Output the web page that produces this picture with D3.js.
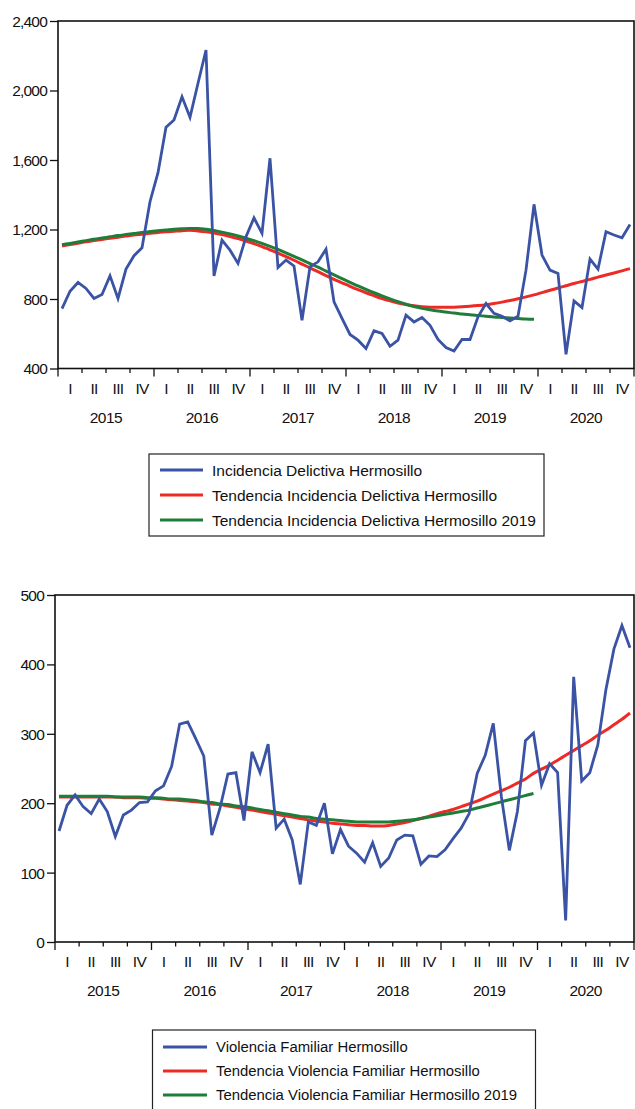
<!DOCTYPE html>
<html>
<head>
<meta charset="utf-8">
<script src="https://cdn.jsdelivr.net/npm/d3@7"></script>
<style>
  html, body { margin: 0; padding: 0; background: #fff; }
  svg { display: block; }
  text { font-family: "Liberation Sans", Arial, sans-serif; fill: #111; }
</style>
</head>
<body>
<svg id="chart" width="635" height="1109"></svg>
<script>
// ---------- DATA ----------
const years = ["2015", "2016", "2017", "2018", "2019", "2020"];
const quarters = ["I", "II", "III", "IV"];

// Chart 1: Incidencia Delictiva Hermosillo (monthly, Jan 2015 - Dec 2020)
const incidencia = [
  745, 845, 895, 861, 803, 826, 933, 803, 972, 1049, 1095, 1360,
  1527, 1788, 1830, 1964, 1846, 2042, 2233, 932, 1139, 1081, 1005, 1158,
  1267, 1178, 1610, 981, 1024, 990, 678, 985, 1014, 1087, 784, 688,
  596, 563, 515, 617, 602, 528, 563, 707, 668, 694, 649, 567,
  521, 501, 567, 567, 697, 774, 717, 701, 674, 701, 966, 1345,
  1053, 966, 947, 482, 789, 751, 1030, 972, 1187, 1168, 1152, 1229
];
const tendIncidencia = [
  1105, 1113, 1121, 1129, 1136, 1143, 1150, 1156, 1162, 1168, 1173, 1178,
  1183, 1187, 1190, 1193, 1195, 1192, 1187, 1180, 1171, 1160, 1148, 1134,
  1119, 1102, 1083, 1064, 1044, 1023, 1001, 979, 957, 935, 913, 893,
  873, 854, 836, 819, 803, 789, 777, 768, 761, 756, 753, 752,
  752, 753, 755, 758, 762, 767, 774, 782, 791, 801, 812, 824,
  837, 850, 863, 876, 889, 901, 913, 926, 938, 950, 962, 975
];
const tendIncidencia2019 = [
  1112, 1120, 1128, 1136, 1144, 1151, 1158, 1165, 1171, 1177, 1183, 1188,
  1193, 1197, 1201, 1204, 1206, 1206, 1201, 1194, 1185, 1175, 1163, 1150,
  1136, 1120, 1103, 1085, 1066, 1046, 1025, 1004, 983, 961, 939, 917,
  896, 875, 855, 836, 818, 801, 785, 770, 757, 746, 738, 731,
  725, 719, 714, 709, 705, 701, 697, 694, 691, 688, 685, 683
];

// Chart 2: Violencia Familiar Hermosillo
const violencia = [
  160, 197, 212, 195, 185, 206, 188, 152, 183, 190, 201, 202,
  218, 225, 253, 314, 317, 293, 268, 154, 192, 242, 244, 175,
  274, 244, 285, 164, 177, 147, 83, 173, 168, 200, 127, 162,
  138, 128, 115, 143, 109, 121, 147, 154, 153, 112, 124, 123,
  133, 149, 164, 185, 243, 269, 315, 210, 132, 188, 290, 301,
  226, 257, 244, 31, 382, 232, 244, 284, 363, 422, 456, 424
];
const tendViolencia = [
  209, 209, 209, 209, 209, 209, 209, 209, 208, 208, 208, 207,
  207, 206, 205, 204, 203, 202, 201, 199, 198, 196, 194, 192,
  190, 188, 186, 184, 182, 180, 178, 176, 174, 173, 171, 170,
  169, 168, 168, 167, 167, 168, 170, 172, 175, 178, 181, 185,
  188, 191, 195, 199, 203, 208, 213, 218, 223, 229, 235, 243,
  249, 255, 262, 269, 276, 283, 290, 298, 305, 313, 321, 330
];
const tendViolencia2019 = [
  210, 210, 210, 210, 210, 210, 210, 209, 209, 209, 209, 208,
  208, 207, 206, 206, 205, 204, 202, 201, 199, 198, 196, 195,
  193, 191, 189, 187, 185, 183, 181, 180, 178, 177, 176, 175,
  174, 173, 173, 173, 173, 173, 174, 175, 176, 178, 180, 182,
  184, 186, 188, 190, 193, 196, 199, 202, 205, 208, 211, 214
];

const ticks1 = [400, 800, 1200, 1600, 2000, 2400];
const ticks2 = [0, 100, 200, 300, 400, 500];

const legend1 = ["Incidencia Delictiva Hermosillo",
                 "Tendencia Incidencia Delictiva Hermosillo",
                 "Tendencia Incidencia Delictiva Hermosillo 2019"];
const legend2 = ["Violencia Familiar Hermosillo",
                 "Tendencia Violencia Familiar Hermosillo",
                 "Tendencia Violencia Familiar Hermosillo 2019"];

const colors = ["#3a53a4", "#ee2a27", "#1f7d3a"];

// ---------- DRAW ----------
const svg = d3.select("#chart");

function drawPanel(cfg) {
  const g = svg.append("g");
  const x = d3.scaleLinear().domain([0, 72]).range([cfg.left, cfg.right]);
  const y = d3.scaleLinear().domain(cfg.domain).range([cfg.bottom, cfg.top]);

  // frame
  g.append("rect")
    .attr("x", cfg.left).attr("y", cfg.top)
    .attr("width", cfg.right - cfg.left).attr("height", cfg.bottom - cfg.top)
    .attr("fill", "none").attr("stroke", "#111").attr("stroke-width", 1.6);

  // y axis
  const yAxis = d3.axisLeft(y).tickValues(cfg.ticks).tickSize(8).tickPadding(3)
    .tickFormat(d3.format(","));
  const ya = g.append("g").attr("transform", `translate(${cfg.left},0)`).call(yAxis);
  ya.select(".domain").remove();
  ya.selectAll(".tick line").attr("stroke", "#111").attr("stroke-width", 1.3);
  ya.selectAll(".tick text").attr("font-size", 15.5).attr("letter-spacing", -0.8)
    .attr("fill", "#111").attr("dy", "0.35em")
    .style("font-family", '"Liberation Sans", Arial, sans-serif');

  // x axis ticks: quarter boundaries
  const qBounds = d3.range(0, 73, 3);
  const xa = g.append("g");
  xa.selectAll("line.q").data(qBounds).join("line")
    .attr("x1", d => x(d)).attr("x2", d => x(d))
    .attr("y1", cfg.bottom)
    .attr("y2", d => cfg.bottom + (d % 12 === 0 ? 8 : 4.5))
    .attr("stroke", "#111").attr("stroke-width", 1.3);

  // quarter labels
  const qLabels = d3.range(24).map(i => ({ pos: i * 3 + 1.5, label: quarters[i % 4] }));
  xa.selectAll("text.q").data(qLabels).join("text")
    .attr("x", d => x(d.pos)).attr("y", cfg.bottom + 25)
    .attr("text-anchor", "middle").attr("font-size", 15.5).attr("letter-spacing", -0.7)
    .text(d => d.label);

  // year labels
  xa.selectAll("text.y").data(years).join("text")
    .attr("x", (d, i) => x(i * 12 + 6)).attr("y", cfg.bottom + 54)
    .attr("text-anchor", "middle").attr("font-size", 15.5).attr("letter-spacing", -0.5)
    .text(d => d);

  // lines
  const line = d3.line().x((d, i) => x(i + 0.5)).y(d => y(d));
  const smooth = d3.line().x((d, i) => x(i + 0.5)).y(d => y(d)).curve(d3.curveMonotoneX);
  const clipId = "clip" + cfg.id;
  svg.append("clipPath").attr("id", clipId).append("rect")
    .attr("x", cfg.left).attr("y", cfg.top - 2)
    .attr("width", cfg.right - cfg.left).attr("height", cfg.bottom - cfg.top + 2);
  const lg = g.append("g").attr("clip-path", `url(#${clipId})`);
  lg.append("path").datum(cfg.series[1]).attr("d", smooth)
    .attr("fill", "none").attr("stroke", colors[1]).attr("stroke-width", 3);
  lg.append("path").datum(cfg.series[2]).attr("d", smooth)
    .attr("fill", "none").attr("stroke", colors[2]).attr("stroke-width", 3);
  lg.append("path").datum(cfg.series[0]).attr("d", line)
    .attr("fill", "none").attr("stroke", colors[0]).attr("stroke-width", 2.8)
    .attr("stroke-linejoin", "miter");

  // legend
  const L = cfg.legend;
  g.append("rect").attr("x", L.x).attr("y", L.y).attr("width", L.w).attr("height", L.h)
    .attr("fill", "#fff").attr("stroke", "#222").attr("stroke-width", 1.2);
  cfg.labels.forEach((t, i) => {
    const yy = L.row0 + i * L.step;
    g.append("line").attr("x1", L.lx1).attr("x2", L.lx2).attr("y1", yy).attr("y2", yy)
      .attr("stroke", colors[i]).attr("stroke-width", 3);
    g.append("text").attr("x", L.tx).attr("y", yy).attr("dy", "0.36em")
      .attr("font-size", L.fs).text(t);
  });
}

drawPanel({
  id: 1, left: 58, right: 634, top: 21, bottom: 368.5,
  domain: [400, 2400], ticks: ticks1,
  series: [incidencia, tendIncidencia, tendIncidencia2019],
  labels: legend1,
  legend: { x: 149, y: 454, w: 395, h: 82, row0: 470, step: 25,
            lx1: 160, lx2: 203, tx: 212, fs: 15.5 }
});

drawPanel({
  id: 2, left: 55, right: 634, top: 595, bottom: 942,
  domain: [0, 500], ticks: ticks2,
  series: [violencia, tendViolencia, tendViolencia2019],
  labels: legend2,
  legend: { x: 152.5, y: 1030, w: 383, h: 84, row0: 1047, step: 24,
            lx1: 163, lx2: 207, tx: 216, fs: 14.9 }
});
</script>
</body>
</html>
